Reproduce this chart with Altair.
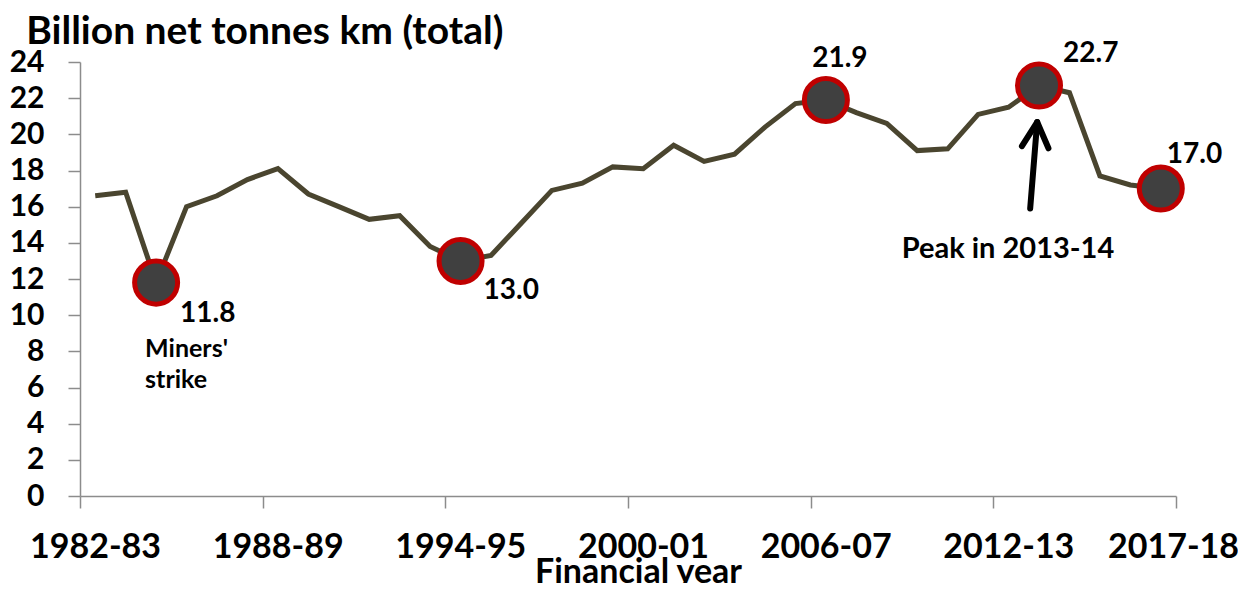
import altair as alt
import pandas as pd

# ---- data -------------------------------------------------------------
years = [f"{y}-{(y + 1) % 100:02d}" for y in range(1982, 2018)]
values = [16.6, 16.8, 11.8, 16.0, 16.6, 17.5, 18.1, 16.7, 16.0, 15.3,
          15.5, 13.8, 13.0, 13.3, 15.1, 16.9, 17.3, 18.2, 18.1, 19.4,
          18.5, 18.9, 20.4, 21.7, 21.9, 21.2, 20.6, 19.1, 19.2, 21.1,
          21.5, 22.7, 22.3, 17.7, 17.2, 17.0]
marked_years = ["1984-85", "1994-95", "2006-07", "2013-14", "2017-18"]
tick_labels = ["1982-83", "1988-89", "1994-95", "2000-01", "2006-07", "2012-13", "2017-18"]
y_ticks = [0, 2, 4, 6, 8, 10, 12, 14, 16, 18, 20, 22, 24]
miners_text = ["Miners'", "strike"]
peak_text = "Peak in 2013-14"
# arrow (category position, value) for tail and tip
arrow_pos = [31.21, 31.44]
arrow_val = [15.9, 20.68]

df = pd.DataFrame({"year": years, "value": values})
df["pos"] = df.index + 0.5
df["label"] = df["value"].map(lambda v: f"{v:.1f}")

arrow_df = pd.DataFrame({"pos": [arrow_pos[0]], "value": [arrow_val[0]],
                         "pos2": [arrow_pos[1]], "value2": [arrow_val[1]]})

FONT = "Lato"
n = len(years)
x_scale = alt.Scale(domain=[0, n], nice=False, zero=False)
y_scale = alt.Scale(domain=[0, 24], nice=False, zero=True)
tick_vals = list(range(0, n + 1, 6))
label_expr = "[" + ",".join(f"'{t}'" for t in tick_labels) + "][floor(datum.value / 6)]"

GRAY = "#8c8c8c"
x_axis = alt.Axis(
    values=tick_vals, labelExpr=label_expr, title="Financial year",
    labelFont=FONT, labelFontSize=34, labelFontWeight="bold", labelColor="black",
    labelPadding=22, labelFlush=False, labelOverlap=False,
    labelOffset={"condition": {"test": f"datum.value == {n}", "value": -3}, "value": 15},
    tickSize=12, tickColor=GRAY, tickWidth=1.5, domainColor=GRAY, domainWidth=1.5,
    grid=False, titleFont=FONT, titleFontSize=34, titleFontWeight="bold",
    titleColor="black", titleX=558, titleY=86, titleBaseline="alphabetic",
)
y_axis = alt.Axis(
    values=y_ticks, tickCount=13, title=None,
    labelFont=FONT, labelFontSize=30, labelFontWeight="bold", labelColor="black",
    labelPadding=24, labelFlush=False, labelOverlap=False,
    tickSize=12, tickColor=GRAY, tickWidth=1.5, domainColor=GRAY, domainWidth=1.5,
    grid=False,
)


def xe(field="pos"):
    return alt.X(f"{field}:Q", scale=x_scale, axis=x_axis)


def ye(field="value"):
    return alt.Y(f"{field}:Q", scale=y_scale, axis=y_axis)


base = alt.Chart(df)
line = base.mark_line(color="#4A452F", strokeWidth=5).encode(x=xe(), y=ye())

marked = base.transform_filter(alt.FieldOneOfPredicate(field="year", oneOf=marked_years))
markers = marked.mark_point(
    shape="circle", filled=True, fill="#404040", stroke="#C00000",
    strokeWidth=5, size=1850, opacity=1,
).encode(x=xe(), y=ye())

label_specs = [
    ("1984-85", "left", 24, 31.5),
    ("1994-95", "left", 23, 30.5),
    ("2006-07", "center", 14, -40.5),
    ("2013-14", "left", 24, -31.5),
    ("2017-18", "left", 6, -34),
]
label_layers = []
for yr, align, dx, dy in label_specs:
    label_layers.append(
        base.transform_filter(alt.datum.year == yr).mark_text(
            font=FONT, fontSize=28, fontWeight="bold", color="black",
            align=align, baseline="middle", dx=dx, dy=dy,
        ).encode(x=xe(), y=ye(), text="label:N")
    )

miners = base.transform_filter(alt.datum.year == "1984-85").mark_text(
    text=miners_text, font=FONT, fontSize=25, fontWeight="bold", color="black",
    align="left", baseline="alphabetic", dx=-11, dy=74, lineHeight=31.5,
).encode(x=xe(), y=ye())

peak = base.transform_filter(alt.datum.year == "2013-14").mark_text(
    text=peak_text, font=FONT, fontSize=29, fontWeight="bold", color="black",
    align="center", baseline="alphabetic", dx=-31, dy=172.5,
).encode(x=xe(), y=ye())

arrow_chart = alt.Chart(arrow_df)
shaft = arrow_chart.mark_rule(color="black", strokeWidth=6, strokeCap="round").encode(
    x=xe(), y=ye(), x2="pos2:Q", y2="value2:Q")
head = arrow_chart.mark_point(
    shape="M-1,1.9L0,0L1,1.9", filled=False, stroke="black", strokeWidth=6,
    strokeJoin="round", strokeCap="round", size=708, angle=4.5, opacity=1,
).encode(x=xe("pos2"), y=ye("value2"))

chart = alt.layer(line, markers, *label_layers, miners, peak, shaft, head).properties(
    width=1096, height=434,
    autosize=alt.AutoSizeParams(type="none"),
    padding={"left": 72, "top": 54, "right": 62, "bottom": 87},
    title=alt.TitleParams(
        "Billion net tonnes km (total)", anchor="start", font=FONT, fontSize=39,
        fontWeight="bold", color="black", dx=17, dy=0, offset=-12,
    ),
).configure_view(stroke=None)

chart.save("out.html", embed_options={"renderer": "svg", "actions": False})
